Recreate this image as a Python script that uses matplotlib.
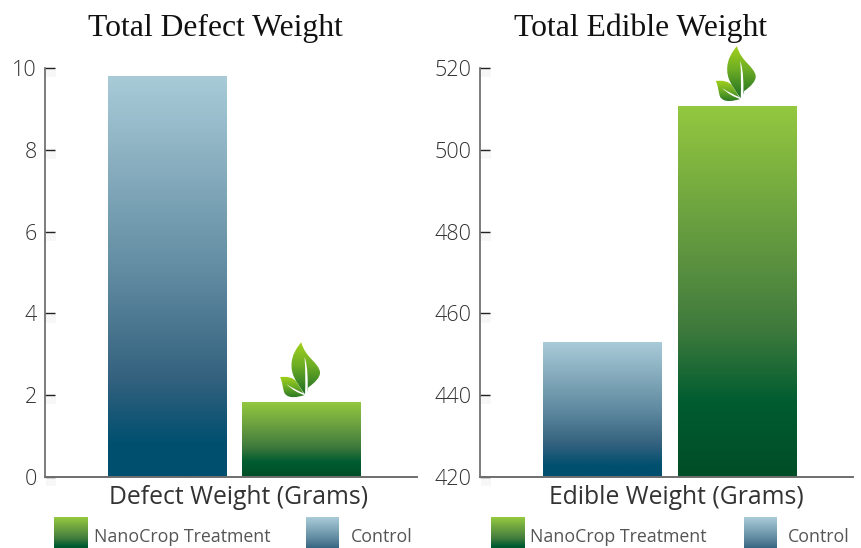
import numpy as np
import matplotlib
matplotlib.use('Agg')
import matplotlib.pyplot as plt
from matplotlib.colors import LinearSegmentedColormap
from matplotlib.patches import PathPatch
from matplotlib.path import Path
from matplotlib.transforms import Affine2D
import matplotlib.patheffects as pe

### Data ###
categories = ['Control', 'NanoCrop Treatment']
defect_weight = [9.8, 1.83]
edible_weight = [453.0, 510.7]
defect_ticks = [0, 2, 4, 6, 8, 10]
edible_ticks = [420, 440, 460, 480, 500, 520]

W, H = 861, 548
SERIF = 'Liberation Serif'
SANS = 'Open Sans'

cmap_control = LinearSegmentedColormap.from_list(
    'control', [(0, '#A9CBD8'), (0.5, '#5F8AA0'), (0.75, '#35627F'), (0.92, '#004F6F'), (1, '#004F6F')])
cmap_treat = LinearSegmentedColormap.from_list(
    'treat', [(0, '#93C83F'), (0.4, '#5E9440'), (0.6, '#3F7A3D'), (0.8, '#005C30'), (1, '#004D28')])
cmap_leaf = LinearSegmentedColormap.from_list('leaf', [(0, '#A4D21C'), (0.45, '#6FAE24'), (1, '#1F6F24')])

fig = plt.figure(figsize=(W / 100, H / 100), dpi=100, facecolor='white')


def px_axes(x0, x1, ytop, ybot):
    return fig.add_axes([x0 / W, 1 - ybot / H, (x1 - x0) / W, (ybot - ytop) / H])


def px_text(x, y, s, **kw):
    fig.text(x / W, 1 - y / H, s, va='center', **kw)


def leaf_path(points):
    verts = [points[0]]
    codes = [Path.MOVETO]
    for p in points[1:]:
        verts.extend(p)
        codes.extend([Path.CURVE4] * 3)
    return Path(verts, codes)


## Leaf outlines, offsets in pixels from the top centre of a bar
BIG_LEAF = [(-0.3, 60), [(-5, 54), (-10, 47), (-10, 37)], [(-10, 28), (-7, 22), (4, 7)],
            [(6, 9), (6, 13), (7, 15)], [(13, 19), (19, 25), (18.5, 30)], [(17, 40), (4, 44), (-0.3, 60)]]
SMALL_LEAF = [(-21.5, 25), [(-15, 26), (-8, 25), (-5, 20)], [(-2, 15), (1, 11), (3, 7)],
              [(-4, 5), (-13, 3), (-17, 9)], [(-19, 14), (-19, 21), (-21.5, 25)]]
BIG_VEIN = [(3, 45), [(6.5, 36), (6.5, 20), (6, 7)], [(5, 7), (4, 7), (3.5, 7)],
            [(4, 20), (4, 33), (3, 45)]]
SMALL_VEIN = [(-15, 18), [(-9, 12), (-3, 9), (3, 7)], [(3, 7.5), (3, 8), (3, 8.5)],
              [(-3, 11), (-9, 14), (-15, 18)]]


def draw_leaf(ax, x, y):
    ox, oy = ax.transData.transform((x, y))
    to_disp = Affine2D().translate(ox, oy)
    grad = np.linspace(0, 1, 128).reshape(-1, 1)
    for outline, extent in ((BIG_LEAF, (-12, 22, 8, 61)), (SMALL_LEAF, (-22, 5, 3, 26))):
        im = ax.imshow(grad, cmap=cmap_leaf, aspect='auto', origin='upper', extent=extent,
                       transform=to_disp, zorder=5)
        # the upper leaf can rise past the top of the axes
        im.set_clip_box(fig.bbox)
        im.set_clip_path(leaf_path(outline), to_disp)
    for vein in (BIG_VEIN, SMALL_VEIN):
        ax.add_patch(PathPatch(leaf_path(vein), transform=to_disp, fc='white', ec='none', zorder=6, clip_on=False))


def draw_panel(box, values, ticks, title, title_x, xlabel, xlabel_x):
    ax = px_axes(*box)
    bars = ax.bar([0, 1], values, width=0.88, color='none')
    ax.set_xlim(-0.91, 1.86)
    ax.set_ylim(ticks[0], ticks[-1])
    for b, cm in zip(bars, (cmap_control, cmap_treat)):
        grad = np.linspace(0, 1, 256).reshape(-1, 1)
        ax.imshow(grad, cmap=cm, aspect='auto', origin='upper', zorder=2,
                  extent=(b.get_x(), b.get_x() + b.get_width(), ticks[0], b.get_height()))
    ax.set_xlim(-0.91, 1.86)
    ax.set_ylim(ticks[0], ticks[-1])
    draw_leaf(ax, 1, values[1])

    for s in ('top', 'right'):
        ax.spines[s].set_visible(False)
    ax.spines['left'].set_color('#666666')
    ax.spines['left'].set_linewidth(1.2)
    ax.spines['bottom'].set_color('#6E6E6E')
    ax.spines['bottom'].set_linewidth(1.4)
    ax.set_xticks([])
    ax.set_yticks(ticks)
    ax.tick_params(axis='y', direction='in', length=7.2, width=1, color='#222222', pad=6, labelcolor='#333333')
    for lab in ax.get_yticklabels():
        lab.set_fontfamily(SANS)
        lab.set_fontweight('light')
        lab.set_fontsize(15.5)
    for tk in ax.yaxis.get_major_ticks():
        # soft shadow under each tick
        tk.tick1line.set_path_effects([
            pe.Stroke(linewidth=7, foreground='#000000', alpha=0.03, offset=(1, -3)),
            pe.Normal(),
        ])

    px_text(title_x, 28, title, family=SERIF, fontsize=22.8, color='#111111', ha='center')
    px_text(xlabel_x, 498, xlabel, family=SANS, fontsize=17.8, color='#333333', ha='center')
    return ax


draw_panel((45, 417, 68, 477), defect_weight, defect_ticks, 'Total Defect Weight', 215, 'Defect Weight (Grams)', 239)
draw_panel((480, 853, 68, 477), edible_weight, edible_ticks, 'Total Edible Weight', 641, 'Edible Weight (Grams)', 676)

## Legends
swatch_h = 31
for treat_x, treat_tx, ctrl_x, ctrl_tx in ((54, 94, 306, 351), (491, 530, 744, 788)):
    for x, cm, stop, width in ((treat_x, cmap_treat, 0.85, 34), (ctrl_x, cmap_control, 0.72, 33)):
        grad = np.tile(np.linspace(0, stop, swatch_h).reshape(-1, 1), (1, width))
        fig.figimage(cm(grad), xo=x, yo=H - 548, origin='upper', zorder=3)
    px_text(treat_tx, 537, categories[1], family=SANS, fontsize=12.8, color='#555555', ha='left')
    px_text(ctrl_tx, 537, categories[0], family=SANS, fontsize=12.8, color='#555555', ha='left')

fig.savefig('out.png', dpi=100)
